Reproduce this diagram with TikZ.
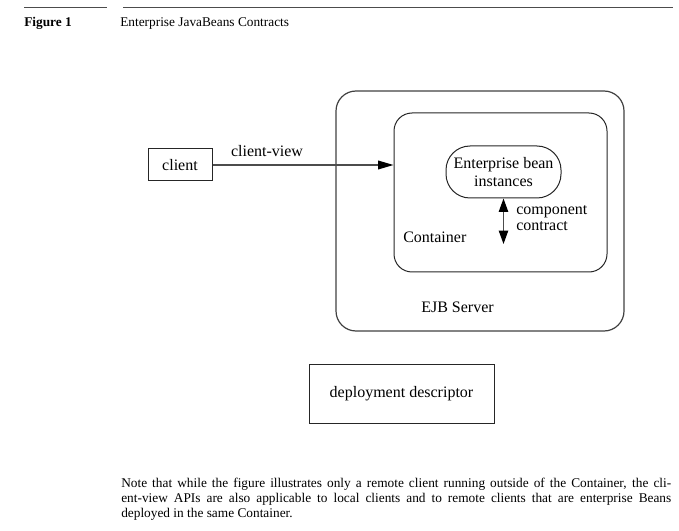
\documentclass[tikz,border=0pt]{standalone}
\usepackage{fontspec}
\setmainfont{Liberation Serif}
\usetikzlibrary{arrows.meta}
\begin{document}
\begin{tikzpicture}[x=0.75pt,y=-0.75pt,
  box/.style={draw=black!85,line width=0.75pt,inner sep=0pt,font=\fontsize{12}{13.5}\selectfont},
  rbox/.style={box,rounded corners=#1},
  lbl/.style={inner sep=0pt,font=\fontsize{12}{12}\selectfont},
  wire/.style={draw=black!70,line width=0.9pt}]
\useasboundingbox (0,0) rectangle (679,531);
\draw [black!70,line width=1.1pt] (24,7.5) -- (107,7.5); \draw [black!70,line width=1.1pt] (123,7.5) -- (673,7.5);
\node[anchor=base west,inner sep=0pt,font=\bfseries] (fig) at (24,26.7) {Figure 1};
\node[anchor=base west,inner sep=0pt] (title) at (120,26.7) {Enterprise JavaBeans Contracts};
\node[rbox=15pt,draw=black!75,line width=0.9pt,minimum width=216pt,minimum height=180pt] (server) at (480,211) {};
\node[rbox=13.5pt,minimum width=159.75pt,minimum height=119.25pt] (cont) at (500.5,192.5) {};
\node[rbox=18pt,minimum width=86.25pt,minimum height=39pt,align=center] (bean) at (503.5,172) {Enterprise bean\\instances};
\node[box,minimum width=48pt,minimum height=24pt] (client) at (180,165) {client};
\node[box,minimum width=138.75pt,minimum height=44.25pt] (dd) at (401.5,393.5) {deployment descriptor};
\coordinate (ccend) at (503.5,244);
\draw [wire,-{Triangle[length=11.5pt,width=6.5pt,color=black]}] (client.east) -- (client.east -| cont.west);
\draw [wire,{Triangle[length=10pt,width=7pt,color=black]}-{Triangle[length=10pt,width=7pt,color=black]}] (bean.south) -- (ccend);
\node[lbl,anchor=base] (cv) at (267,157) {client-view};
\node[lbl,anchor=base west,text width=60pt,align=left] (cc) at (516,215) {component\\contract};
\node[lbl,anchor=base west] (contlbl) at (403,243) {Container};
\node[lbl,anchor=base] (srvlbl) at (457.5,312) {EJB Server};
\node[anchor=base west,inner sep=0pt,text width=412.5pt,align=justify,font=\fontsize{10}{11.25}\selectfont] (note) at (121,487.5) {Note that while the figure illustrates only a remote client running outside of the Container, the cli-\linebreak ent-view APIs are also applicable to local clients and to remote clients that are enterprise Beans\linebreak deployed in the same Container.};
\end{tikzpicture}
\end{document}
